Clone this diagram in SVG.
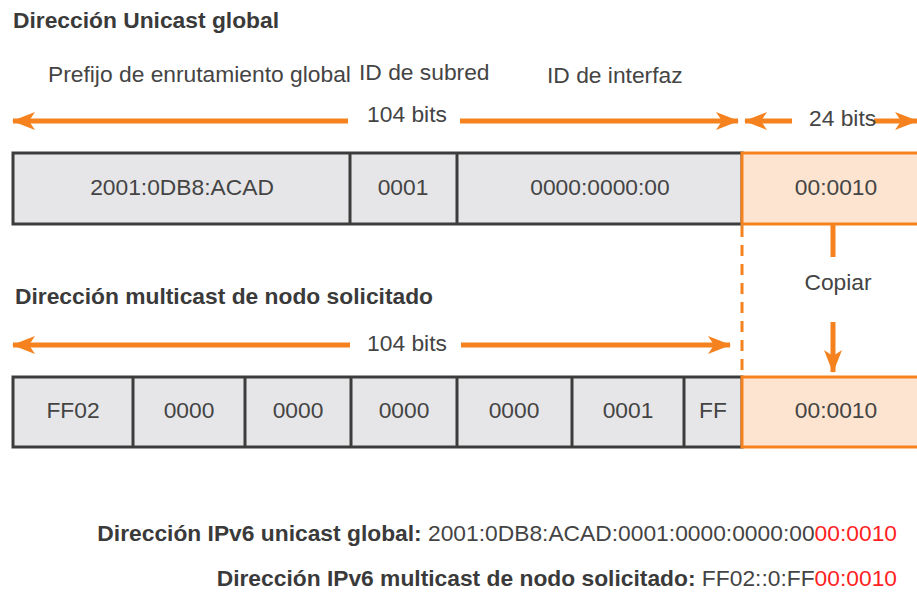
<svg xmlns="http://www.w3.org/2000/svg" width="917" height="593" viewBox="0 0 917 593">
  <style>
    text { font-family: "Liberation Sans", Arial, sans-serif; fill: #444; font-size: 22.8px; }
    .b { font-weight: bold; fill: #3a3a3a; }
    .c { text-anchor: middle; }
    .red { fill: #ff1f1f; }
    .cell { fill: #e6e6e8; stroke: #3c3c3c; stroke-width: 3; }
    .div { stroke: #3c3c3c; stroke-width: 3; }
    .ocell { fill: #fde4d0; stroke: #f5821f; stroke-width: 3; }
    .arr { stroke: #f5821f; stroke-width: 5; fill: none; marker-end: url(#head); }
    .dash { stroke: #f5821f; stroke-width: 3; stroke-dasharray: 11 8; fill: none; }
  </style>
  <defs>
    <marker id="head" markerUnits="userSpaceOnUse" markerWidth="24" markerHeight="20" refX="22" refY="10" orient="auto">
      <path d="M0,1 L23,10 L0,19 L6,10 Z" fill="#f5821f"/>
    </marker>
  </defs>

  <!-- headings -->
  <text class="b" x="13" y="28">Dirección Unicast global</text>
  <text x="48" y="82">Prefijo de enrutamiento global</text>
  <text x="359" y="80">ID de subred</text>
  <text x="547" y="83">ID de interfaz</text>

  <!-- global unicast address fields -->
  <g id="unicast-row">
    <rect class="cell" x="13" y="153" width="729" height="71"/>
    <line class="div" x1="350" y1="153" x2="350" y2="224"/>
    <line class="div" x1="457" y1="153" x2="457" y2="224"/>
    <text class="c" x="182" y="195">2001:0DB8:ACAD</text>
    <text class="c" x="403" y="195">0001</text>
    <text class="c" x="600" y="195">0000:0000:00</text>
  </g>
  <g id="unicast-tail">
    <rect class="ocell" x="742" y="153" width="180" height="71"/>
    <text class="c" x="836" y="195">00:0010</text>
  </g>

  <!-- solicited-node multicast fields -->
  <text class="b" x="15" y="304">Dirección multicast de nodo solicitado</text>
  <g id="multicast-row">
    <rect class="cell" x="13" y="377" width="729" height="70"/>
    <line class="div" x1="133" y1="377" x2="133" y2="447"/>
    <line class="div" x1="245" y1="377" x2="245" y2="447"/>
    <line class="div" x1="351" y1="377" x2="351" y2="447"/>
    <line class="div" x1="457" y1="377" x2="457" y2="447"/>
    <line class="div" x1="572" y1="377" x2="572" y2="447"/>
    <line class="div" x1="684" y1="377" x2="684" y2="447"/>
    <text class="c" x="73" y="418">FF02</text>
    <text class="c" x="189" y="418">0000</text>
    <text class="c" x="298" y="418">0000</text>
    <text class="c" x="404" y="418">0000</text>
    <text class="c" x="514" y="418">0000</text>
    <text class="c" x="628" y="418">0001</text>
    <text class="c" x="713" y="418">FF</text>
  </g>
  <g id="multicast-tail">
    <rect class="ocell" x="742" y="377" width="180" height="70"/>
    <text class="c" x="836" y="418">00:0010</text>
  </g>

  <!-- dimension arrows and copy arrow -->
  <g id="connectors">
    <line class="arr" x1="348" y1="121" x2="13" y2="121"/>
    <line class="arr" x1="460" y1="121" x2="738" y2="121"/>
    <line class="arr" x1="792" y1="121" x2="745" y2="121"/>
    <line class="arr" x1="874" y1="121" x2="917" y2="121"/>
    <line class="arr" x1="350" y1="345" x2="13" y2="345"/>
    <line class="arr" x1="461" y1="345" x2="730" y2="345"/>
    <line class="dash" x1="742" y1="226" x2="742" y2="376"/>
    <line stroke="#f5821f" stroke-width="5" x1="833" y1="225" x2="833" y2="257"/>
    <line class="arr" x1="833" y1="322" x2="833" y2="372"/>
  </g>
  <text class="c" x="407" y="122">104 bits</text>
  <text x="809" y="126">24 bits</text>
  <text class="c" x="838" y="290">Copiar</text>
  <text class="c" x="407" y="351">104 bits</text>

  <!-- resulting addresses -->
  <text x="897" y="541" text-anchor="end"><tspan class="b">Dirección IPv6 unicast global:</tspan> 2001:0DB8:ACAD:0001:0000:0000:00<tspan class="red">00:0010</tspan></text>
  <text x="897" y="586" text-anchor="end"><tspan class="b">Dirección IPv6 multicast de nodo solicitado:</tspan> FF02::0:FF<tspan class="red">00:0010</tspan></text>
</svg>
